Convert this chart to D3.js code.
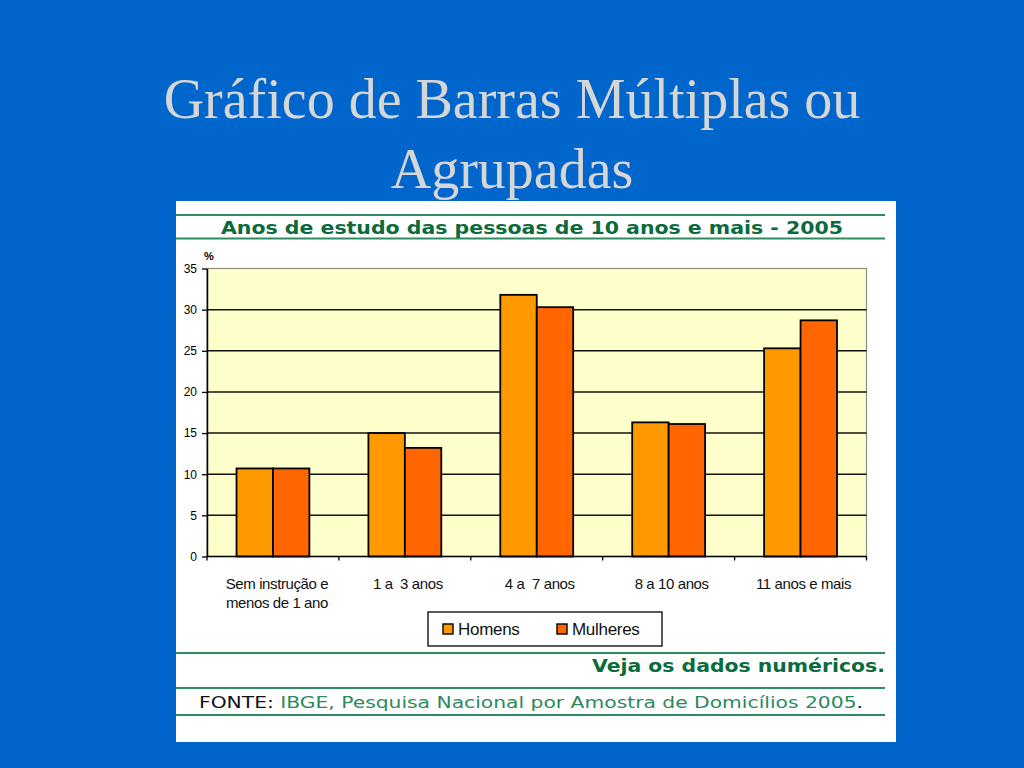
<!DOCTYPE html>
<html>
<head>
<meta charset="utf-8">
<script src="https://cdn.jsdelivr.net/npm/d3@7"></script>
<style>
  html, body { margin: 0; padding: 0; background: #0066cc; }
  svg { display: block; }
</style>
</head>
<body>
<div id="chart"></div>
<script>
// Anos de estudo das pessoas de 10 anos e mais - 2005 (PNAD)
const categories = [
  ['Sem instrução e', 'menos de 1 ano'],
  ['1 a  3 anos'],
  ['4 a  7 anos'],
  ['8 a 10 anos'],
  ['11 anos e mais']
];
const seriesNames = ['Homens', 'Mulheres'];
const homens = [10.7, 15.0, 31.8, 16.3, 25.3];
const mulheres = [10.7, 13.2, 30.3, 16.1, 28.7];
const yTicks = [0, 5, 10, 15, 20, 25, 30, 35];

const W = 1024, H = 768;
const colors = { Homens: '#ff9900', Mulheres: '#ff6600' };
const green = '#2e8b62';
const darkGreen = '#0a6b3c';

const svg = d3.select('#chart').append('svg')
  .attr('width', W)
  .attr('height', H);

// slide background + title
svg.append('rect').attr('width', W).attr('height', H).attr('fill', '#0066cc');
const title = svg.append('text')
  .attr('text-anchor', 'middle')
  .attr('fill', '#d6d6d6')
  .attr('font-family', '"Liberation Serif", "Times New Roman", serif')
  .attr('font-size', 56);
title.append('tspan').attr('x', 512).attr('y', 118).text('Gráfico de Barras Múltiplas ou');
title.append('tspan').attr('x', 512).attr('y', 188).text('Agrupadas');

// white panel
const panel = { x: 176, y: 201, w: 720, h: 541 };
svg.append('rect')
  .attr('x', panel.x).attr('y', panel.y)
  .attr('width', panel.w).attr('height', panel.h)
  .attr('fill', '#ffffff');

// green rules
[215, 238.5, 653, 688, 715].forEach(yy => {
  svg.append('line')
    .attr('x1', panel.x).attr('x2', 885)
    .attr('y1', yy).attr('y2', yy)
    .attr('stroke', green).attr('stroke-width', 2);
});

svg.append('text')
  .attr('x', 221).attr('y', 234)
  .attr('fill', darkGreen)
  .attr('font-family', '"DejaVu Sans", Verdana, sans-serif')
  .attr('font-weight', 'bold')
  .attr('font-size', 17)
  .attr('textLength', 622)
  .attr('lengthAdjust', 'spacingAndGlyphs')
  .text('Anos de estudo das pessoas de 10 anos e mais - 2005');

// plot area
const plot = { left: 207, right: 866.5, top: 268.5, bottom: 556.5 };

const x0 = d3.scaleBand()
  .domain(d3.range(categories.length))
  .range([plot.left, plot.right]);

const x1 = d3.scaleBand()
  .domain(seriesNames)
  .range([0, x0.bandwidth()])
  .paddingOuter(0.81);

const y = d3.scaleLinear()
  .domain([0, 35])
  .range([plot.bottom, plot.top]);

svg.append('rect')
  .attr('x', plot.left).attr('y', plot.top)
  .attr('width', plot.right - plot.left)
  .attr('height', plot.bottom - plot.top)
  .attr('fill', '#ffffcc')
  .attr('stroke', '#8c8c80')
  .attr('stroke-width', 1.2);

// gridlines
svg.append('g')
  .selectAll('line')
  .data(yTicks.filter(t => t > 0 && t < 35))
  .join('line')
  .attr('x1', plot.left).attr('x2', plot.right)
  .attr('y1', d => y(d)).attr('y2', d => y(d))
  .attr('stroke', '#111').attr('stroke-width', 1.5);

// bars
const data = categories.map((c, i) => ({ i, Homens: homens[i], Mulheres: mulheres[i] }));
svg.append('g')
  .selectAll('g')
  .data(data)
  .join('g')
  .attr('transform', d => `translate(${x0(d.i)},0)`)
  .selectAll('rect')
  .data(d => seriesNames.map(s => ({ s, v: d[s] })))
  .join('rect')
  .attr('x', d => x1(d.s))
  .attr('y', d => y(d.v))
  .attr('width', x1.bandwidth())
  .attr('height', d => y(0) - y(d.v))
  .attr('fill', d => colors[d.s])
  .attr('stroke', '#000')
  .attr('stroke-width', 1.8);

// y axis
const yAxis = svg.append('g')
  .attr('transform', `translate(${plot.left},0)`)
  .call(d3.axisLeft(y).tickValues(yTicks).tickSize(5).tickPadding(5).tickSizeOuter(0));
yAxis.select('.domain').attr('stroke', '#000').attr('stroke-width', 1.5);
yAxis.selectAll('.tick line').attr('stroke', '#000').attr('stroke-width', 1.3);
yAxis.selectAll('.tick text')
  .attr('fill', '#000')
  .attr('font-family', '"Liberation Sans", Arial, sans-serif')
  .attr('font-size', 12);

svg.append('text')
  .attr('x', 209).attr('y', 260)
  .attr('text-anchor', 'middle')
  .attr('font-family', '"Liberation Sans", Arial, sans-serif')
  .attr('font-weight', 'bold')
  .attr('font-size', 11)
  .text('%');

// x axis: ticks at category boundaries
const bounds = d3.range(categories.length + 1).map(i => plot.left + i * x0.step());
svg.append('line')
  .attr('x1', plot.left).attr('x2', plot.right)
  .attr('y1', plot.bottom).attr('y2', plot.bottom)
  .attr('stroke', '#000').attr('stroke-width', 1.5);
svg.append('g')
  .selectAll('line')
  .data(bounds)
  .join('line')
  .attr('x1', d => d).attr('x2', d => d)
  .attr('y1', plot.bottom).attr('y2', plot.bottom + 4)
  .attr('stroke', '#000').attr('stroke-width', 1.3);

const xl = svg.append('g')
  .selectAll('text')
  .data(categories)
  .join('text')
  .attr('text-anchor', 'middle')
  .attr('font-family', '"Liberation Sans", Arial, sans-serif')
  .attr('font-size', 15)
  .attr('letter-spacing', -0.4)
  .attr('fill', '#111')
  .style('white-space', 'pre');
xl.each(function (lines, i) {
  const t = d3.select(this);
  lines.forEach((ln, k) => {
    t.append('tspan')
      .attr('x', x0(i) + x0.bandwidth() / 2 + (i === 0 ? 4 : 3))
      .attr('y', 589 + k * 19)
      .text(ln);
  });
});

// legend
const lg = svg.append('g').attr('transform', 'translate(428,612)');
lg.append('rect')
  .attr('width', 234).attr('height', 34)
  .attr('fill', '#fff')
  .attr('stroke', '#222').attr('stroke-width', 1.5);
const legendX = [15, 129];
seriesNames.forEach((s, i) => {
  lg.append('rect')
    .attr('x', legendX[i]).attr('y', 12)
    .attr('width', 10).attr('height', 10)
    .attr('fill', colors[s])
    .attr('stroke', '#000').attr('stroke-width', 1.4);
  lg.append('text')
    .attr('x', legendX[i] + 15).attr('y', 22.5)
    .attr('font-family', '"Liberation Sans", Arial, sans-serif')
    .attr('font-size', 17)
    .attr('letter-spacing', -0.3)
    .attr('fill', '#111')
    .text(s);
});

// footer
svg.append('text')
  .attr('x', 885).attr('y', 672)
  .attr('text-anchor', 'end')
  .attr('fill', darkGreen)
  .attr('font-family', '"DejaVu Sans", Verdana, sans-serif')
  .attr('font-weight', 'bold')
  .attr('font-size', 17)
  .attr('textLength', 293)
  .attr('lengthAdjust', 'spacingAndGlyphs')
  .text('Veja os dados numéricos.');

const src = svg.append('text')
  .attr('x', 199).attr('y', 708)
  .attr('font-family', '"DejaVu Sans", Verdana, sans-serif')
  .attr('font-size', 16)
  .attr('textLength', 664)
  .attr('lengthAdjust', 'spacingAndGlyphs');
src.append('tspan').attr('fill', '#111').text('FONTE: ');
src.append('tspan').attr('fill', '#2a8a5c').text('IBGE, Pesquisa Nacional por Amostra de Domicílios 2005');
src.append('tspan').attr('fill', '#111').text('.');
</script>
</body>
</html>
